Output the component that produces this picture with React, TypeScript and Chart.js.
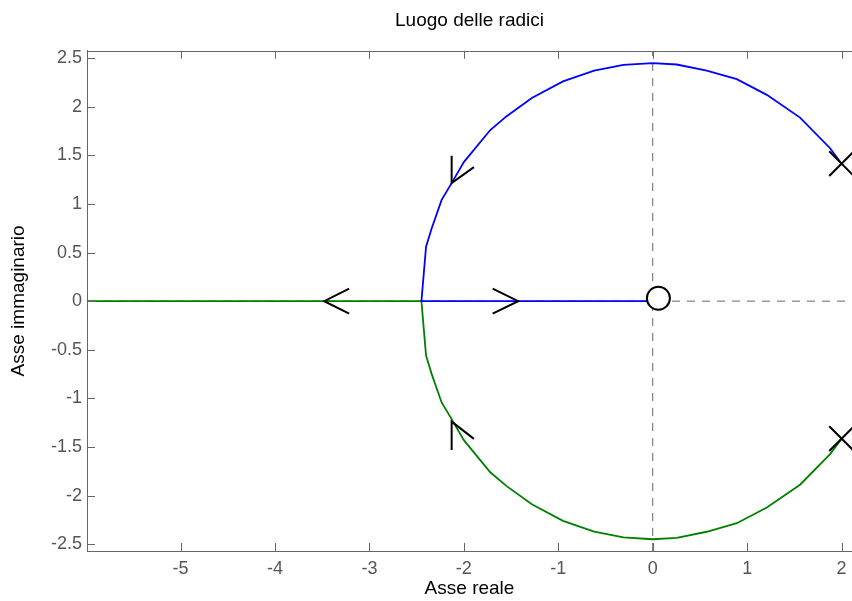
import React, { useEffect, useRef } from "react";
import { Chart, registerables } from "chart.js";

Chart.register(...registerables);

// Axis limits and tick values
const xRange = [-5.99, 2.11];
const yRange = [-2.57, 2.575];
const xTickValues = [-5, -4, -3, -2, -1, 0, 1, 2];
const yTickValues = [-2.5, -2, -1.5, -1, -0.5, 0, 0.5, 1, 1.5, 2, 2.5];

// Open-loop poles and zero
const poleRe = [2, 2];
const poleIm = [1.414, -1.414];
const zeroRe = [0.06];
const zeroIm = [0.03];

// Branch 1 (blue): upper pole -> breakaway -> zero
const branch1Re = [2, 1.878, 1.56, 1.208, 0.89, 0.572, 0.254, 0, -0.31, -0.62, -0.95, -1.28, -1.55, -1.72, -2.0, -2.129, -2.235, -2.341, -2.4, -2.449, -1.2, 0];
const branch1Im = [1.414, 1.573, 1.888, 2.122, 2.284, 2.372, 2.434, 2.449, 2.43, 2.37, 2.26, 2.09, 1.9, 1.76, 1.43, 1.214, 1.042, 0.748, 0.56, 0, 0, 0];

// Branch 2 (green): lower pole -> breakaway -> towards -inf
const branch2Re = [2, 1.878, 1.56, 1.208, 0.89, 0.572, 0.254, 0, -0.31, -0.62, -0.95, -1.28, -1.55, -1.72, -2.0, -2.129, -2.235, -2.341, -2.4, -2.449, -4.0, -6.0];
const branch2Im = [-1.414, -1.573, -1.888, -2.122, -2.284, -2.372, -2.434, -2.449, -2.43, -2.37, -2.26, -2.09, -1.9, -1.76, -1.43, -1.214, -1.042, -0.748, -0.56, 0, 0, 0];

// Direction arrowheads (arm, tip, arm)
const arrowUpperRe = [-2.129, -2.129, -1.893];
const arrowUpperIm = [1.495, 1.214, 1.379];
const arrowLowerRe = [-2.129, -2.129, -1.893];
const arrowLowerIm = [-1.53, -1.239, -1.417];
const arrowLeftRe = [-3.214, -3.479, -3.214];
const arrowLeftIm = [0.129, 0, -0.129];
const arrowRightRe = [-1.695, -1.424, -1.695];
const arrowRightIm = [0.129, 0, -0.129];

// Reference axes through the origin
const vAxisRe = [0, 0];
const vAxisIm = [-2.57, 2.575];
const hAxisRe = [-5.99, 2.11];
const hAxisIm = [0, 0];

const pts = (re: number[], im: number[]) => re.map((x, i) => ({ x, y: im[i] }));

const FONT = "'Liberation Sans', Arial, Helvetica, sans-serif";
const AXIS_GRAY = "#666666";
const TEXT_GRAY = "#555555";

const innerTicks = {
  id: "innerTicks",
  afterDraw(chart: any) {
    const { ctx, chartArea, scales } = chart;
    const { left, right, top, bottom } = chartArea;
    const len = 8;
    ctx.save();
    ctx.strokeStyle = AXIS_GRAY;
    ctx.lineWidth = 1;
    ctx.beginPath();
    ctx.moveTo(left, Math.round(top) + 0.5);
    ctx.lineTo(right, Math.round(top) + 0.5);
    for (const v of xTickValues) {
      const px = Math.round(scales.x.getPixelForValue(v)) + 0.5;
      ctx.moveTo(px, bottom);
      ctx.lineTo(px, bottom - len);
      ctx.moveTo(px, top);
      ctx.lineTo(px, top + len);
    }
    for (const v of yTickValues) {
      const py = Math.round(scales.y.getPixelForValue(v)) + 0.5;
      ctx.moveTo(left, py);
      ctx.lineTo(left + len, py);
    }
    ctx.stroke();
    ctx.restore();
  },
};

export default function App() {
  const ref = useRef<HTMLCanvasElement>(null);

  useEffect(() => {
    if (!ref.current) return;
    Chart.defaults.font.family = FONT;

    const arrow = (re: number[], im: number[]) => ({
      data: pts(re, im),
      showLine: true,
      borderColor: "#000000",
      borderWidth: 2,
      pointRadius: 0,
      borderJoinStyle: "miter" as const,
      tension: 0,
    });

    const chart = new Chart(ref.current, {
      type: "scatter",
      data: {
        datasets: [
          {
            data: pts(poleRe, poleIm),
            pointStyle: "crossRot",
            pointRadius: 17.5,
            borderColor: "#000000",
            borderWidth: 2,
            clip: false,
          } as any,
          {
            data: pts(zeroRe, zeroIm),
            pointStyle: "circle",
            pointRadius: 11.5,
            borderColor: "#000000",
            backgroundColor: "#ffffff",
            borderWidth: 2,
            clip: false,
          } as any,
          arrow(arrowUpperRe, arrowUpperIm),
          arrow(arrowLowerRe, arrowLowerIm),
          arrow(arrowLeftRe, arrowLeftIm),
          arrow(arrowRightRe, arrowRightIm),
          {
            data: pts(branch1Re, branch1Im),
            showLine: true,
            borderColor: "#0000ff",
            borderWidth: 1.8,
            pointRadius: 0,
            tension: 0,
          },
          {
            data: pts(branch2Re, branch2Im),
            showLine: true,
            borderColor: "#008000",
            borderWidth: 1.8,
            pointRadius: 0,
            tension: 0,
          },
          {
            data: pts(hAxisRe, hAxisIm),
            showLine: true,
            borderColor: AXIS_GRAY,
            borderWidth: 1,
            borderDash: [8, 7],
            pointRadius: 0,
          },
          {
            data: pts(vAxisRe, vAxisIm),
            showLine: true,
            borderColor: AXIS_GRAY,
            borderWidth: 1,
            borderDash: [8, 7],
            pointRadius: 0,
          },
        ],
      },
      options: {
        responsive: false,
        animation: false,
        devicePixelRatio: 1,
        layout: { padding: 0, autoPadding: false },
        plugins: {
          legend: { display: false },
          tooltip: { enabled: false },
          title: {
            display: true,
            text: "Luogo delle radici",
            color: "#000000",
            fullSize: false,
            font: { size: 19, weight: "normal", family: FONT },
            padding: { top: 9, bottom: 19 },
          },
        },
        scales: {
          x: {
            type: "linear",
            min: xRange[0],
            max: xRange[1],
            afterBuildTicks: (s: any) => {
              s.ticks = xTickValues.map((value) => ({ value }));
            },
            afterFit: (s: any) => {
              s.height = 50;
              s.paddingLeft = 0;
              s.paddingRight = 0;
            },
            grid: { display: false, drawTicks: false },
            border: { display: true, color: AXIS_GRAY, width: 1 },
            ticks: {
              color: TEXT_GRAY,
              padding: 7,
              maxRotation: 0,
              font: { size: 18, family: FONT },
              callback: (v: any) => String(v),
            },
            title: {
              display: true,
              text: "Asse reale",
              color: "#000000",
              font: { size: 19, family: FONT },
              padding: { top: 0, bottom: 1 },
            },
          },
          y: {
            type: "linear",
            min: yRange[0],
            max: yRange[1],
            afterBuildTicks: (s: any) => {
              s.ticks = yTickValues.map((value) => ({ value }));
            },
            afterFit: (s: any) => {
              s.width = 87;
              s.paddingTop = 0;
              s.paddingBottom = 0;
            },
            grid: { display: false, drawTicks: false },
            border: { display: true, color: AXIS_GRAY, width: 1 },
            ticks: {
              color: TEXT_GRAY,
              padding: 5,
              font: { size: 18, family: FONT },
              callback: (v: any) => String(v),
            },
            title: {
              display: true,
              text: "Asse immaginario",
              color: "#000000",
              font: { size: 19, family: FONT },
              padding: { top: 7, bottom: 0 },
            },
          },
        },
      },
      plugins: [innerTicks],
    } as any);

    return () => chart.destroy();
  }, []);

  return (
    <div style={{ position: "fixed", left: 0, top: 0, width: 852, height: 601, background: "#ffffff" }}>
      <canvas ref={ref} width={852} height={601} style={{ display: "block" }} />
    </div>
  );
}
